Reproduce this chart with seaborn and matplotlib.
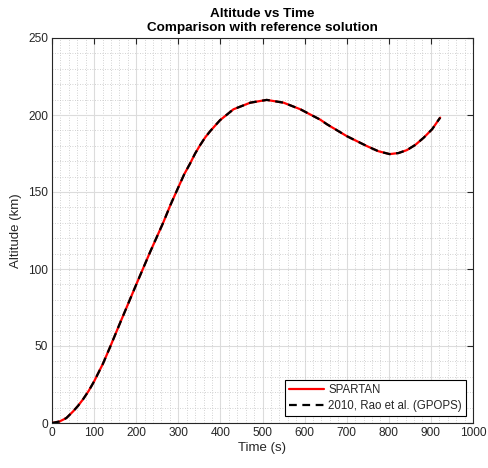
import numpy as np
import pandas as pd
import matplotlib
matplotlib.use("Agg")
import matplotlib.pyplot as plt
import seaborn as sns
from matplotlib.ticker import MultipleLocator

# SPARTAN solution
spartan_time = [0, 18, 34, 50, 62, 74, 87, 100, 121, 139, 161, 201, 233, 264, 282, 300, 314,
                328, 340, 352, 364, 376, 399, 431, 471, 510, 550, 590, 613, 637, 653, 700,
                748, 775, 802, 823, 843, 863, 883, 903, 922]
spartan_alt = [0, 1, 3.2, 7.5, 11.2, 15.5, 20.8, 27, 38.5, 50, 64.5, 90.5, 111, 130, 142, 153,
               161.5, 168.5, 175, 180.5, 185.5, 189.6, 196.6, 203.7, 208, 209.8, 208, 203.7,
               200.4, 197, 194, 186.3, 179.8, 176.5, 174.6, 175.3, 177.2, 180.6, 185.3, 190.8, 198.3]

# Reference solution (Rao et al. 2010, GPOPS)
gpops_time = [0, 18, 34, 50, 62, 74, 87, 100, 121, 139, 161, 201, 233, 264, 282, 300, 314,
              328, 340, 352, 364, 376, 399, 431, 471, 510, 550, 590, 613, 637, 653, 700,
              748, 775, 802, 823, 843, 863, 883, 903, 922]
gpops_alt = [0, 1, 3.2, 7.5, 11.2, 15.5, 20.8, 27, 38.5, 50, 64.5, 90.5, 111, 130, 142, 153,
             161.5, 168.5, 175, 180.5, 185.5, 189.6, 196.6, 203.7, 208, 209.8, 208, 203.7,
             200.4, 197, 194, 186.3, 179.8, 176.5, 174.6, 175.3, 177.2, 180.6, 185.3, 190.8, 198.3]

x_ticks = [0, 100, 200, 300, 400, 500, 600, 700, 800, 900, 1000]
y_ticks = [0, 50, 100, 150, 200, 250]

sns.set_style("white")
plt.rcParams['font.family'] = ['Liberation Sans', 'DejaVu Sans']

dark = "#262626"
fig = plt.figure(figsize=(4.88, 4.68), dpi=100)
ax = fig.add_axes([52/488, 1-423/468, 421/488, 385/468])

df_s = pd.DataFrame({"t": spartan_time, "h": spartan_alt})
df_g = pd.DataFrame({"t": gpops_time, "h": gpops_alt})
sns.lineplot(data=df_s, x="t", y="h", ax=ax, color="#ff0000", linewidth=1.6,
             estimator=None, sort=False, label="SPARTAN", zorder=3)
sns.lineplot(data=df_g, x="t", y="h", ax=ax, color="black", linewidth=1.6,
             estimator=None, sort=False, label="2010, Rao et al. (GPOPS)", zorder=4,
             linestyle=(0, (3.5, 2.5)))

ax.set_xlim(0, 1000)
ax.set_ylim(0, 250)
ax.set_xticks(x_ticks)
ax.set_yticks(y_ticks)
ax.xaxis.set_minor_locator(MultipleLocator(20))
ax.yaxis.set_minor_locator(MultipleLocator(10))

ax.grid(True, which="major", color="#dcdcdc", linewidth=0.8, linestyle="-")
ax.grid(True, which="minor", color="#c4c4c4", linewidth=0.6, linestyle=(0, (1, 2)))
ax.set_axisbelow(True)

ax.tick_params(axis="both", which="major", direction="in", length=4, width=0.8,
               colors=dark, labelsize=8.6, top=True, right=True, pad=3)
ax.tick_params(axis="both", which="minor", length=0, top=True, right=True)
for s in ax.spines.values():
    s.set_color(dark)
    s.set_linewidth(0.8)

ax.set_xlabel("Time (s)", fontsize=9.5, color=dark, labelpad=2)
ax.set_ylabel("Altitude (km)", fontsize=9.5, color=dark, labelpad=4)
ax.set_title("Altitude vs Time\nComparison with reference solution",
             fontsize=9.7, fontweight="bold", color="black", pad=5, linespacing=1.2)

leg = ax.legend(loc="lower right", fontsize=8.3, frameon=True, fancybox=False,
                edgecolor="black", framealpha=1, borderpad=0.35, handlelength=3.0,
                labelspacing=0.35, borderaxespad=0.6, handletextpad=0.4)
leg.get_frame().set_linewidth(0.8)

fig.savefig("out.png", dpi=100)
